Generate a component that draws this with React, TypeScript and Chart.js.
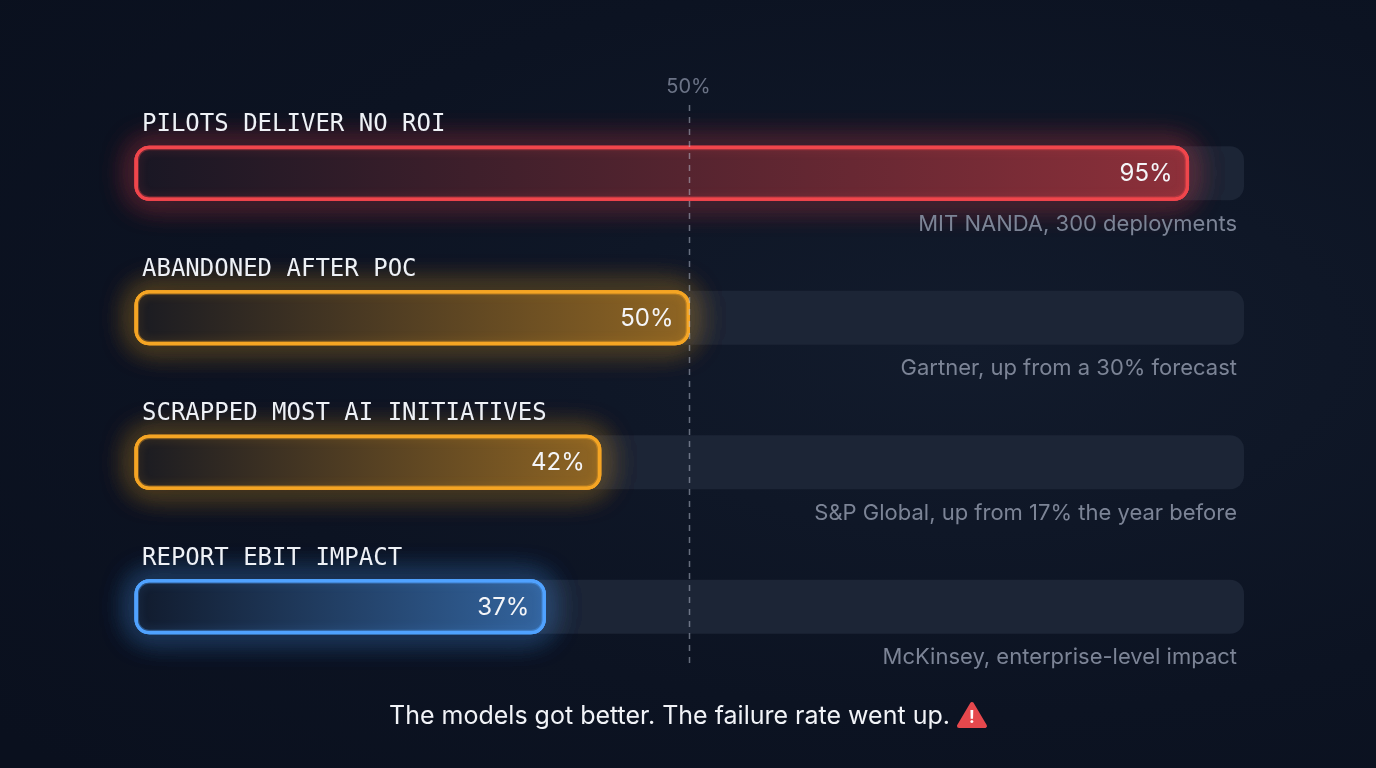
import { useEffect, useRef } from 'react'
import { Chart, registerables } from 'chart.js'

Chart.register(...registerables)

const categories = [
  'PILOTS DELIVER NO ROI',
  'ABANDONED AFTER POC',
  'SCRAPPED MOST AI INITIATIVES',
  'REPORT EBIT IMPACT',
]
const failureRates = [95, 50, 42, 37]
const trackValues = [100, 100, 100, 100]
const sources = [
  'MIT NANDA, 300 deployments',
  'Gartner, up from a 30% forecast',
  'S&P Global, up from 17% the year before',
  'McKinsey, enterprise-level impact',
]
const referenceValue = 50
const referenceLabel = '50%'
const footerText = 'The models got better. The failure rate went up.'

// styling
const BG = [14, 20, 34]
const barRgb = [
  [240, 70, 76],
  [245, 165, 36],
  [245, 165, 36],
  [80, 162, 255],
]
const rgb = (c: number[], a = 1) => `rgba(${c[0]},${c[1]},${c[2]},${a})`
const mix = (c: number[], t: number) =>
  `rgb(${c.map((v, i) => Math.round(BG[i] + (v - BG[i]) * t)).join(',')})`

const MONO = '"DejaVu Sans Mono", "Liberation Mono", monospace'
const SANS = 'Inter, "Noto Sans", sans-serif'

function roundRect(ctx: CanvasRenderingContext2D, x: number, y: number, w: number, h: number, r: number) {
  ctx.beginPath()
  ctx.moveTo(x + r, y)
  ctx.lineTo(x + w - r, y)
  ctx.arcTo(x + w, y, x + w, y + r, r)
  ctx.lineTo(x + w, y + h - r)
  ctx.arcTo(x + w, y + h, x + w - r, y + h, r)
  ctx.lineTo(x + r, y + h)
  ctx.arcTo(x, y + h, x, y + h - r, r)
  ctx.lineTo(x, y + r)
  ctx.arcTo(x, y, x + r, y, r)
  ctx.closePath()
}

const overlayPlugin = {
  id: 'overlay',
  beforeDatasetDraw(chart: any, args: any) {
    if (args.index !== 0) return
    const { ctx } = chart
    // neon glow behind the value bars
    args.meta.data.forEach((bar: any, i: number) => {
      const { x, y, base, height } = bar.getProps(['x', 'y', 'base', 'height'], true)
      ctx.save()
      ctx.strokeStyle = rgb(barRgb[i])
      ctx.lineWidth = 4
      ctx.shadowColor = rgb(barRgb[i], 0.75)
      ctx.shadowBlur = 30
      for (let k = 0; k < 3; k++) {
        roundRect(ctx, base + 1.5, y - height / 2 + 1.5, x - base - 3, height - 3, 13)
        ctx.stroke()
      }
      ctx.restore()
    })
  },
  afterDatasetDraw(chart: any, args: any) {
    if (args.index !== 0) return
    const { ctx } = chart
    // soft inner glow along the border
    args.meta.data.forEach((bar: any, i: number) => {
      const { x, y, base, height } = bar.getProps(['x', 'y', 'base', 'height'], true)
      ctx.save()
      roundRect(ctx, base + 3, y - height / 2 + 3, x - base - 6, height - 6, 11)
      ctx.clip()
      ctx.strokeStyle = rgb(barRgb[i], 0.35)
      ctx.lineWidth = 4
      ctx.shadowColor = rgb(barRgb[i], 0.6)
      ctx.shadowBlur = 10
      roundRect(ctx, base + 2, y - height / 2 + 2, x - base - 4, height - 4, 12)
      ctx.stroke()
      ctx.restore()
    })
  },
  afterDatasetsDraw(chart: any) {
    const { ctx, chartArea, scales } = chart
    const meta = chart.getDatasetMeta(0)

    // reference line
    const px = scales.x.getPixelForValue(referenceValue)
    ctx.save()
    ctx.strokeStyle = 'rgba(190,198,214,0.5)'
    ctx.lineWidth = 1.5
    ctx.setLineDash([6, 6])
    ctx.beginPath()
    ctx.moveTo(px, chartArea.top + 4)
    ctx.lineTo(px, chartArea.bottom - 14)
    ctx.stroke()
    ctx.setLineDash([])
    ctx.fillStyle = '#6b7386'
    ctx.font = `20px ${SANS}`
    ctx.textAlign = 'center'
    ctx.textBaseline = 'middle'
    ctx.fillText(referenceLabel, px - 1, chartArea.top - 14)
    ctx.restore()

    meta.data.forEach((bar: any, i: number) => {
      const { x, y, base, height } = bar.getProps(['x', 'y', 'base', 'height'], true)
      ctx.save()
      // category label
      ctx.font = `24px ${MONO}`
      ctx.fillStyle = '#eef1f6'
      ctx.textAlign = 'left'
      ctx.textBaseline = 'alphabetic'
      ctx.fillText(categories[i], base + 7, y - height / 2 - 15)
      // value
      ctx.font = `24px ${SANS}`
      ctx.fillStyle = '#f4f5f8'
      ctx.textAlign = 'right'
      ctx.textBaseline = 'middle'
      ctx.fillText(`${failureRates[i]}%`, x - 16, y + 1)
      // source
      ctx.font = `22px ${SANS}`
      ctx.fillStyle = '#7c8496'
      ctx.fillText(sources[i], chartArea.right - 7, y + height / 2 + 24)
      ctx.restore()
    })

    // footer
    ctx.save()
    ctx.font = `25px ${SANS}`
    ctx.fillStyle = '#f1f3f7'
    ctx.textBaseline = 'middle'
    ctx.textAlign = 'left'
    const tw = ctx.measureText(footerText).width
    const iconW = 30
    const gap = 7
    const total = tw + gap + iconW
    const fx = chart.width / 2 - total / 2
    const fy = 716
    ctx.fillText(footerText, fx, fy)
    const ix = fx + tw + gap
    ctx.fillStyle = '#e5484d'
    ctx.strokeStyle = '#e5484d'
    ctx.lineWidth = 4
    ctx.lineJoin = 'round'
    ctx.beginPath()
    ctx.moveTo(ix + iconW / 2, fy - 12)
    ctx.lineTo(ix + iconW - 2, fy + 10)
    ctx.lineTo(ix + 2, fy + 10)
    ctx.closePath()
    ctx.fill()
    ctx.stroke()
    ctx.fillStyle = '#ffffff'
    ctx.font = `bold 17px ${SANS}`
    ctx.textAlign = 'center'
    ctx.fillText('!', ix + iconW / 2, fy + 2)
    ctx.restore()
  },
}

export default function App() {
  const canvasRef = useRef<HTMLCanvasElement>(null)
  const chartRef = useRef<Chart | null>(null)

  useEffect(() => {
    document.body.style.margin = '0'
    chartRef.current?.destroy()
    if (!canvasRef.current) return

    chartRef.current = new Chart(canvasRef.current, {
      type: 'bar',
      data: {
        labels: categories,
        datasets: [
          {
            label: 'Failure rate',
            data: failureRates,
            grouped: false,
            backgroundColor: (c: any) => {
              const chart = c.chart
              const area = chart.chartArea
              const col = barRgb[c.dataIndex] || barRgb[0]
              if (!area || c.type !== 'data') return mix(col, 0.3)
              const end = chart.scales.x.getPixelForValue(c.raw)
              const g = chart.ctx.createLinearGradient(area.left, 0, end, 0)
              g.addColorStop(0, mix(col, 0.05))
              g.addColorStop(1, mix(col, 0.56))
              return g
            },
            borderColor: barRgb.map((c) => rgb(c)),
            borderWidth: 3,
            borderRadius: 14,
            borderSkipped: false,
            barPercentage: 0.374,
            categoryPercentage: 1,
          },
          {
            label: 'Track',
            data: trackValues,
            grouped: false,
            backgroundColor: '#1c2536',
            borderWidth: 0,
            borderRadius: 14,
            borderSkipped: false,
            barPercentage: 0.374,
            categoryPercentage: 1,
          },
        ],
      },
      options: {
        indexAxis: 'y',
        animation: false,
        responsive: true,
        maintainAspectRatio: false,
        layout: { padding: { left: 135, right: 132, top: 101, bottom: 89 } },
        plugins: {
          legend: { display: false },
          tooltip: { enabled: false },
        },
        scales: {
          x: { display: false, min: 0, max: 100 },
          y: { display: false },
        },
      },
      plugins: [overlayPlugin],
    } as any)

    return () => {
      chartRef.current?.destroy()
      chartRef.current = null
    }
  }, [])

  return (
    <div
      style={{
        width: 1376,
        height: 768,
        background: 'radial-gradient(ellipse 90% 80% at 70% 45%, #121b2c 0%, #0c1322 60%, #0a101e 100%)',
      }}
    >
      <canvas ref={canvasRef} />
    </div>
  )
}
